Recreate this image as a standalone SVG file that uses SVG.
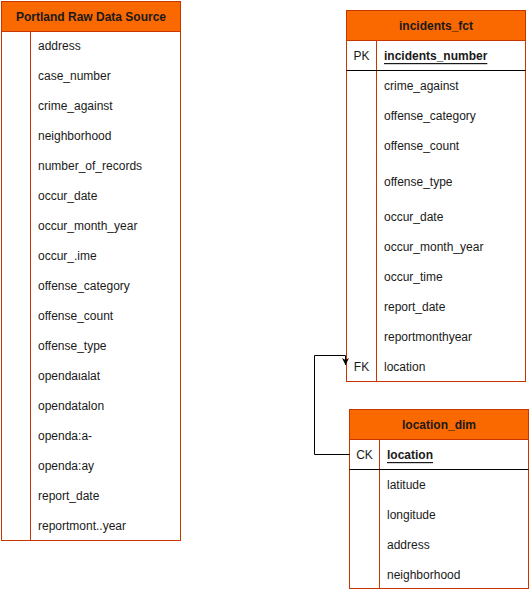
<svg xmlns="http://www.w3.org/2000/svg" width="530" height="590" viewBox="0 0 530 590">
<style>
.box{fill:#ffffff;stroke:#C73500;stroke-width:1}
.hdr{fill:#FA6800;stroke:#C73500;stroke-width:1}
.div{stroke:#C73500;stroke-width:1;fill:none}
.sep{stroke:#000000;stroke-width:1;fill:none}
.t{font-family:"Liberation Sans",Arial,sans-serif;font-size:12px;fill:#1a1a1a;dominant-baseline:central}
.h{font-family:"Liberation Sans",Arial,sans-serif;font-size:12px;font-weight:bold;fill:#1a1a1a;text-anchor:middle;dominant-baseline:central}
.k{text-anchor:middle}
.u{font-weight:bold;text-decoration:underline}
.conn{stroke:#000000;stroke-width:1;fill:none}
</style>
<defs>
<marker id="arr" viewBox="0 0 10 10" refX="10" refY="5" markerWidth="7" markerHeight="7" orient="auto" markerUnits="userSpaceOnUse">
<path d="M0,0 L10,5 L0,10 L3,5 Z" fill="#000"/>
</marker>
</defs>
<g id="raw_source">
<rect class="box" x="1.5" y="1.5" width="179" height="539"/>
<rect class="hdr" x="1.5" y="1.5" width="179" height="30"/>
<line class="div" x1="30.5" y1="31.5" x2="30.5" y2="540.5"/>
<text class="h" x="91" y="16.5">Portland Raw Data Source</text>
<text class="t" x="38" y="46">address</text>
<text class="t" x="38" y="76">case_number</text>
<text class="t" x="38" y="106">crime_against</text>
<text class="t" x="38" y="136">neighborhood</text>
<text class="t" x="38" y="166">number_of_records</text>
<text class="t" x="38" y="196">occur_date</text>
<text class="t" x="38" y="226">occur_month_year</text>
<text class="t" x="38" y="256">occur_.ime</text>
<text class="t" x="38" y="286">offense_category</text>
<text class="t" x="38" y="316">offense_count</text>
<text class="t" x="38" y="346">offense_type</text>
<text class="t" x="38" y="376">opendaιalat</text>
<text class="t" x="38" y="406">opendatalon</text>
<text class="t" x="38" y="436">openda:a-</text>
<text class="t" x="38" y="466">openda:ay</text>
<text class="t" x="38" y="496">report_date</text>
<text class="t" x="38" y="526">reportmont..year</text>
</g>
<g id="incidents_fct">
<rect class="box" x="346.5" y="10.5" width="179" height="371"/>
<rect class="hdr" x="346.5" y="10.5" width="179" height="30"/>
<line class="div" x1="376.5" y1="40.5" x2="376.5" y2="381.5"/>
<line class="sep" x1="346.5" y1="70.5" x2="525.5" y2="70.5"/>
<text class="h" x="436" y="25.5">incidents_fct</text>
<text class="t k" x="361.5" y="56">PK</text>
<text class="t u" x="384" y="56">incidents_number</text>
<text class="t" x="384" y="86">crime_against</text>
<text class="t" x="384" y="116">offense_category</text>
<text class="t" x="384" y="146">offense_count</text>
<text class="t" x="384" y="182">offense_type</text>
<text class="t" x="384" y="217">occur_date</text>
<text class="t" x="384" y="247">occur_month_year</text>
<text class="t" x="384" y="277">occur_time</text>
<text class="t" x="384" y="307">report_date</text>
<text class="t" x="384" y="337">reportmonthyear</text>
<text class="t k" x="361.5" y="367">FK</text>
<text class="t" x="384" y="367">location</text>
</g>
<g id="location_dim">
<rect class="box" x="349.5" y="409.5" width="179" height="179"/>
<rect class="hdr" x="349.5" y="409.5" width="179" height="30"/>
<line class="div" x1="379.5" y1="439.5" x2="379.5" y2="588.5"/>
<line class="sep" x1="349.5" y1="469.5" x2="528.5" y2="469.5"/>
<text class="h" x="439" y="424.5">location_dim</text>
<text class="t k" x="364.5" y="455">CK</text>
<text class="t u" x="387" y="455">location</text>
<text class="t" x="387" y="485">latitude</text>
<text class="t" x="387" y="515">longitude</text>
<text class="t" x="387" y="545">address</text>
<text class="t" x="387" y="575">neighborhood</text>
</g>
<g id="connectors">
<path class="conn" d="M349.5,454.5 L314.5,454.5 L314.5,355.5 L345.5,355.5 L345.5,365" marker-end="url(#arr)"/>
</g>
</svg>
